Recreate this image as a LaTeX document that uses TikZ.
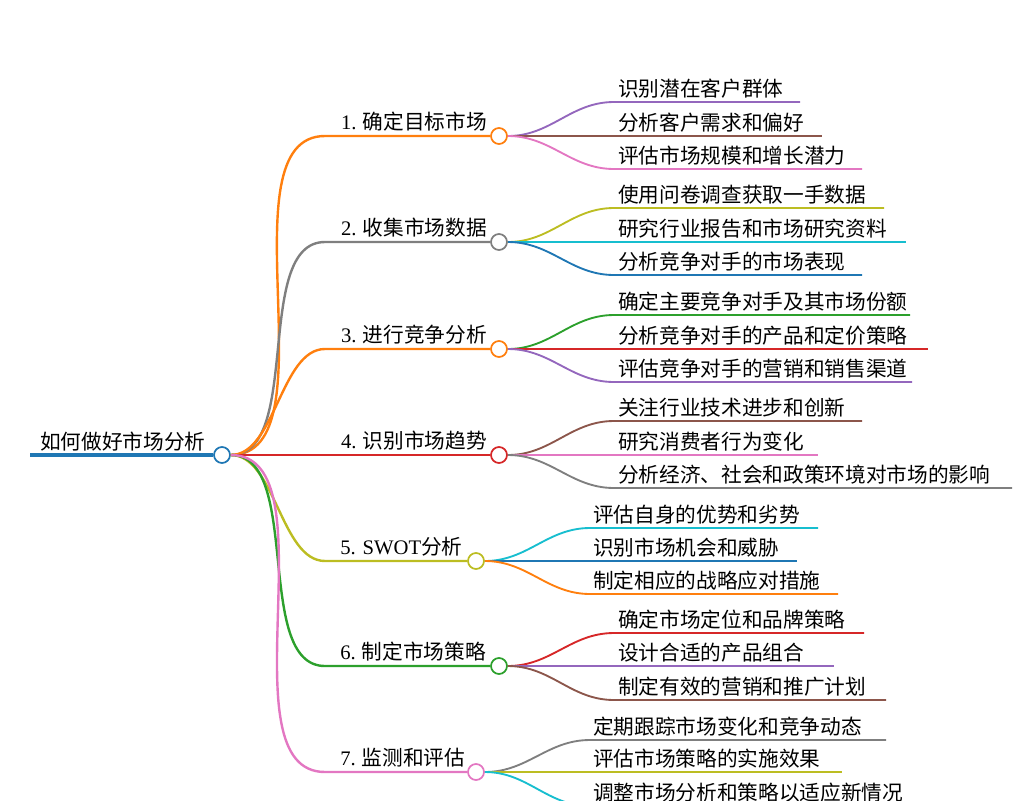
\documentclass[tikz,border=0pt]{standalone}
\usepackage{fontspec}
\setmainfont{Liberation Serif}
\newfontfamily\cjk{Noto Sans CJK SC}
\usetikzlibrary{positioning}
\definecolor{cblue}{HTML}{1F77B4}
\definecolor{corange}{HTML}{FF7F0E}
\definecolor{cgreen}{HTML}{2CA02C}
\definecolor{cred}{HTML}{D62728}
\definecolor{cpurple}{HTML}{9467BD}
\definecolor{cbrown}{HTML}{8C564B}
\definecolor{cpink}{HTML}{E377C2}
\definecolor{cgray}{HTML}{7F7F7F}
\definecolor{colive}{HTML}{BCBD22}
\definecolor{ccyan}{HTML}{17BECF}
\tikzset{hub/.style={circle,draw=#1,fill=white,line width=1.3pt,minimum size=12pt,inner sep=0pt},
  lbl/.style={inner sep=0pt,font=\fontsize{15.5}{17}\selectfont\cjk},
  br/.style={line width=1.8pt,draw=#1},
  lf/.style={line width=1.4pt,draw=#1}}
\newcommand{\num}[1]{{\rmfamily #1}}
\begin{document}
\begin{tikzpicture}[x=0.75pt,y=-0.75pt]
    \useasboundingbox (0,0) rectangle (1032,800);
    \node[hub=cblue] (root) at (222,455) {};
    \coordinate (r0) at (30,455);
    \draw[line width=3.6pt,cblue] (r0) -- (root);
    \node[lbl,anchor=base west] (rt) at (40,449) {如何做好市场分析};

    % main branches
    \node[hub=corange] (b1) at (499,136) {};
    \node[hub=cgray] (b2) at (499,242) {};
    \node[hub=corange] (b3) at (499,349) {};
    \node[hub=cred] (b4) at (499,455) {};
    \node[hub=colive] (b5) at (476,561) {};
    \node[hub=cgreen] (b6) at (499,666) {};
    \node[hub=cpink] (b7) at (476,772) {};
    \coordinate (k1) at (325,136);
    \coordinate (k2) at (325,242);
    \coordinate (k3) at (325,349);
    \coordinate (k5) at (325,561);
    \coordinate (k6) at (325,666);
    \coordinate (k7) at (325,772);
    \draw[br=corange] (root.east) to[out=0,in=180,looseness=0.8] (k1) -- (b1);
    \draw[br=cgray] (root.east) to[out=0,in=180,looseness=0.8] (k2) -- (b2);
    \draw[br=corange] (root.east) to[out=0,in=180,looseness=0.8] (k3) -- (b3);
    \draw[br=cred] (root.east) -- (b4);
    \draw[br=colive] (root.east) to[out=0,in=180,looseness=0.8] (k5) -- (b5);
    \draw[br=cgreen] (root.east) to[out=0,in=180,looseness=0.8] (k6) -- (b6);
    \draw[br=cpink] (root.east) to[out=0,in=180,looseness=0.8] (k7) -- (b7);
    \node[lbl,anchor=base east] (t1) at (487,129) {\num{1.} 确定目标市场};
    \node[lbl,anchor=base east] (t2) at (487,235) {\num{2.} 收集市场数据};
    \node[lbl,anchor=base east] (t3) at (487,342) {\num{3.} 进行竞争分析};
    \node[lbl,anchor=base east] (t4) at (487,448) {\num{4.} 识别市场趋势};
    \node[lbl,anchor=base west] (t5) at (340,554) {\num{5. SWOT}分析};
    \node[lbl,anchor=base west] (t6) at (340,659) {\num{6.} 制定市场策略};
    \node[lbl,anchor=base west] (t7) at (340,765) {\num{7.} 监测和评估};

    % leaves of 1
    \coordinate (s11) at (614,102); \coordinate (e11) at (800,102);
    \coordinate (s12) at (614,136); \coordinate (e12) at (822,136);
    \coordinate (s13) at (614,169); \coordinate (e13) at (862,169);
    \draw[lf=cpurple] (b1.east) to[out=0,in=180] (s11) -- (e11);
    \draw[lf=cbrown] (b1.east) -- (e12);
    \draw[lf=cpink] (b1.east) to[out=0,in=180] (s13) -- (e13);
    \node[lbl,anchor=base west] at (618,96) {识别潜在客户群体};
    \node[lbl,anchor=base west] at (618,130) {分析客户需求和偏好};
    \node[lbl,anchor=base west] at (618,163) {评估市场规模和增长潜力};

    % leaves of 2
    \coordinate (s21) at (614,208); \coordinate (e21) at (884,208);
    \coordinate (s22) at (614,242); \coordinate (e22) at (906,242);
    \coordinate (s23) at (614,275); \coordinate (e23) at (862,275);
    \draw[lf=colive] (b2.east) to[out=0,in=180] (s21) -- (e21);
    \draw[lf=ccyan] (b2.east) -- (e22);
    \draw[lf=cblue] (b2.east) to[out=0,in=180] (s23) -- (e23);
    \node[lbl,anchor=base west] at (618,202) {使用问卷调查获取一手数据};
    \node[lbl,anchor=base west] at (618,236) {研究行业报告和市场研究资料};
    \node[lbl,anchor=base west] at (618,269) {分析竞争对手的市场表现};

    % leaves of 3
    \coordinate (s31) at (614,315); \coordinate (e31) at (910,315);
    \coordinate (s32) at (614,349); \coordinate (e32) at (928,349);
    \coordinate (s33) at (614,382); \coordinate (e33) at (912,382);
    \draw[lf=cgreen] (b3.east) to[out=0,in=180] (s31) -- (e31);
    \draw[lf=cred] (b3.east) -- (e32);
    \draw[lf=cpurple] (b3.east) to[out=0,in=180] (s33) -- (e33);
    \node[lbl,anchor=base west] at (618,309) {确定主要竞争对手及其市场份额};
    \node[lbl,anchor=base west] at (618,343) {分析竞争对手的产品和定价策略};
    \node[lbl,anchor=base west] at (618,376) {评估竞争对手的营销和销售渠道};

    % leaves of 4
    \coordinate (s41) at (614,421); \coordinate (e41) at (862,421);
    \coordinate (s42) at (614,455); \coordinate (e42) at (818,455);
    \coordinate (s43) at (614,488); \coordinate (e43) at (1012,488);
    \draw[lf=cbrown] (b4.east) to[out=0,in=180] (s41) -- (e41);
    \draw[lf=cpink] (b4.east) -- (e42);
    \draw[lf=cgray] (b4.east) to[out=0,in=180] (s43) -- (e43);
    \node[lbl,anchor=base west] at (618,415) {关注行业技术进步和创新};
    \node[lbl,anchor=base west] at (618,449) {研究消费者行为变化};
    \node[lbl,anchor=base west] at (618,482) {分析经济、社会和政策环境对市场的影响};

    % leaves of 5
    \coordinate (s51) at (590,528); \coordinate (e51) at (818,528);
    \coordinate (s52) at (590,561); \coordinate (e52) at (797,561);
    \coordinate (s53) at (590,594); \coordinate (e53) at (838,594);
    \draw[lf=ccyan] (b5.east) to[out=0,in=180] (s51) -- (e51);
    \draw[lf=cblue] (b5.east) -- (e52);
    \draw[lf=corange] (b5.east) to[out=0,in=180] (s53) -- (e53);
    \node[lbl,anchor=base west] at (593,522) {评估自身的优势和劣势};
    \node[lbl,anchor=base west] at (593,555) {识别市场机会和威胁};
    \node[lbl,anchor=base west] at (593,588) {制定相应的战略应对措施};

    % leaves of 6
    \coordinate (s61) at (614,633); \coordinate (e61) at (864,633);
    \coordinate (s62) at (614,666); \coordinate (e62) at (834,666);
    \coordinate (s63) at (614,700); \coordinate (e63) at (886,700);
    \draw[lf=cred] (b6.east) to[out=0,in=180] (s61) -- (e61);
    \draw[lf=cpurple] (b6.east) -- (e62);
    \draw[lf=cbrown] (b6.east) to[out=0,in=180] (s63) -- (e63);
    \node[lbl,anchor=base west] at (618,627) {确定市场定位和品牌策略};
    \node[lbl,anchor=base west] at (618,660) {设计合适的产品组合};
    \node[lbl,anchor=base west] at (618,694) {制定有效的营销和推广计划};

    % leaves of 7
    \coordinate (s71) at (590,740); \coordinate (e71) at (886,740);
    \coordinate (s72) at (590,772); \coordinate (e72) at (842,772);
    \coordinate (s73) at (590,806); \coordinate (e73) at (930,806);
    \draw[lf=cgray] (b7.east) to[out=0,in=180] (s71) -- (e71);
    \draw[lf=colive] (b7.east) -- (e72);
    \draw[lf=ccyan] (b7.east) to[out=0,in=180] (s73) -- (e73);
    \node[lbl,anchor=base west] at (593,734) {定期跟踪市场变化和竞争动态};
    \node[lbl,anchor=base west] at (593,766) {评估市场策略的实施效果};
    \node[lbl,anchor=base west] at (593,800) {调整市场分析和策略以适应新情况};
\end{tikzpicture}
\end{document}
